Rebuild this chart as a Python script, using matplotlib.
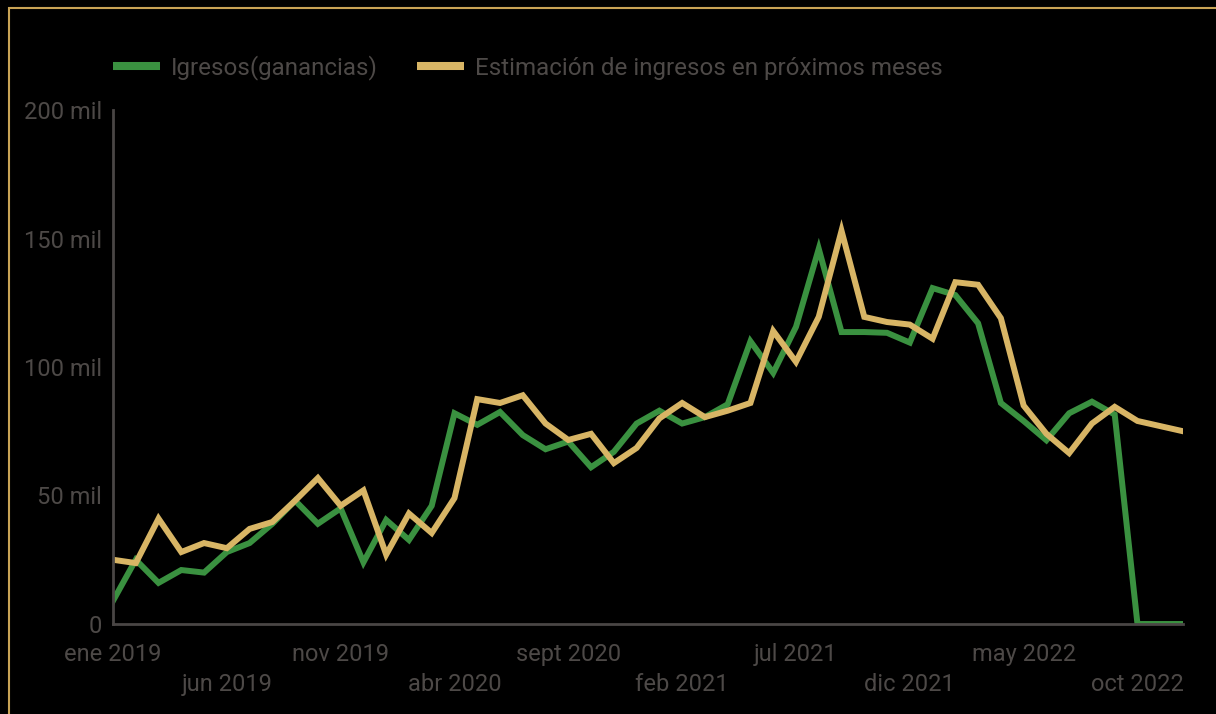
import matplotlib.pyplot as plt
from matplotlib.patches import Rectangle

plt.rcParams['font.family'] = ['Roboto', 'DejaVu Sans']

# monthly values, ene 2019 .. dic 2022 (thousands)
months = ['ene', 'feb', 'mar', 'abr', 'may', 'jun', 'jul', 'ago', 'sept', 'oct', 'nov', 'dic']
years = [2019, 2020, 2021, 2022]
ingresos = [9, 25, 16, 21, 20, 28, 31.5, 39, 48, 39, 45, 24,
            40.5, 32.7, 46, 82, 77.5, 82.5, 73.5, 68, 71, 61, 67, 78,
            83, 78, 80.5, 85.5, 110, 97.7, 115.6, 146, 113.6, 113.6, 113.3, 109.5,
            130.7, 128, 117, 86, 79, 71.5, 82, 86.5, 81.5, 0, 0, 0]
estimacion = [25, 23.7, 41, 28, 31.5, 29.5, 37, 39.7, 48, 56.8, 46, 52,
              27, 43, 35.4, 49, 87.5, 86, 89, 78, 71.6, 74, 62.6, 68.5,
              80, 86, 80.5, 83, 86, 114, 102, 119.5, 153, 119.5, 117.5, 116.5,
              111, 133, 132, 119, 85, 74, 66.5, 78, 84.5, 79, 77, 75]
labels = [f'{m} {y}' for y in years for m in months]

green = '#3a9140'
gold = '#d8b565'
txt = '#4d4947'
spine = '#4a4645'
fs = 17

fig = plt.figure(figsize=(12.16, 7.14), dpi=100, facecolor='black')
fig.patches.append(Rectangle((9 / 1216, -0.1), 1.2, (714 - 8) / 714 + 0.1,
                             transform=fig.transFigure, fill=False,
                             edgecolor='#c9a355', linewidth=1.5))
ax = fig.add_axes([113 / 1216, 90 / 714, (1183 - 113) / 1216, (624 - 110) / 714])
ax.set_facecolor('black')

x = list(range(len(ingresos)))
ax.plot(x, ingresos, color=green, lw=4.3, label='Igresos(ganancias)', solid_joinstyle='miter')
ax.plot(x, estimacion, color=gold, lw=4.3, label='Estimación de ingresos en próximos meses',
        solid_joinstyle='miter')

ax.set_xlim(0, len(x) - 1)
ax.set_ylim(0, 200)
ax.set_yticks([0, 50, 100, 150, 200])
ax.set_yticklabels(['0', '50 mil', '100 mil', '150 mil', '200 mil'])

major = list(range(0, 48, 10))
minor = list(range(5, 48, 10))
ax.set_xticks(major)
ax.set_xticklabels([labels[i] for i in major])
ax.set_xticks(minor, minor=True)
ax.set_xticklabels([labels[i] for i in minor], minor=True)
ax.tick_params(axis='x', which='major', length=0, pad=13.5, labelsize=fs, labelcolor=txt)
ax.tick_params(axis='x', which='minor', length=0, pad=35.5, labelsize=fs, labelcolor=txt)
ax.tick_params(axis='y', length=0, pad=8, labelsize=fs, labelcolor=txt)

for s in ['top', 'right']:
    ax.spines[s].set_visible(False)
for s in ['left', 'bottom']:
    ax.spines[s].set_color(spine)
    ax.spines[s].set_linewidth(2)

leg = ax.legend(loc='lower left', bbox_to_anchor=(-0.0095, 1.039), ncol=2, frameon=False,
                fontsize=17.4, labelcolor=txt, handlelength=1.95, handletextpad=0.45,
                columnspacing=1.65, borderaxespad=0)
for h in leg.get_lines():
    h.set_linewidth(5.8)
    h.set_solid_capstyle('butt')

fig.savefig('out.png', dpi=100, facecolor='black')
